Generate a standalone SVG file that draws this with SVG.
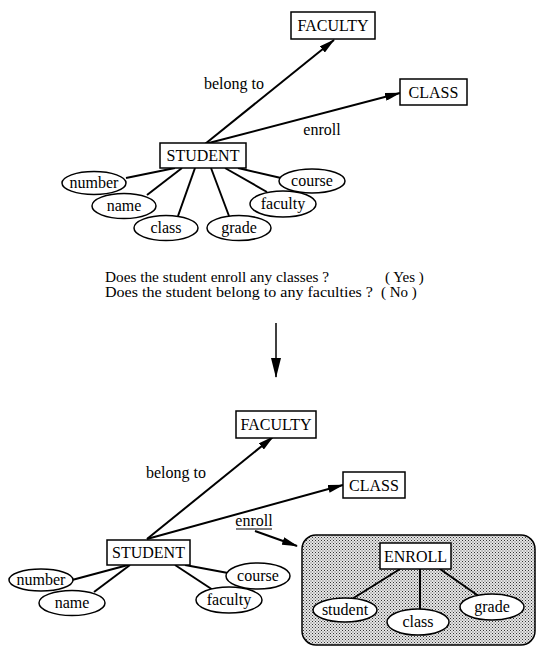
<svg xmlns="http://www.w3.org/2000/svg" width="537" height="648" viewBox="0 0 537 648">
<style>
text{font-family:"Liberation Serif","Times New Roman",serif;fill:#000}
.lbl{font-size:16px;text-anchor:middle}
.q{font-size:15px}
.box{fill:#fff;stroke:#000;stroke-width:1.5}
.ell{fill:#fff;stroke:#000;stroke-width:1.5}
.ln{stroke:#000;stroke-width:2;fill:none}
.arr{stroke:#000;stroke-width:2;fill:none;marker-end:url(#ah)}
</style>
<defs>
<marker id="ah" viewBox="0 0 16 8" refX="15" refY="4" markerWidth="16" markerHeight="8" markerUnits="userSpaceOnUse" orient="auto">
<path d="M0,0 L16,4 L0,8 Z" fill="#000"/>
</marker>
<marker id="ahv" viewBox="0 0 10 20" refX="5" refY="19" markerWidth="10" markerHeight="20" markerUnits="userSpaceOnUse" orient="0">
<path d="M0,0 L10,0 L5,20 Z" fill="#000"/>
</marker>
<pattern id="dots" width="3" height="3" patternUnits="userSpaceOnUse">
<rect width="3" height="3" fill="#e6e6e6"/>
<rect x="0" y="0" width="1" height="1" fill="#333"/>
<rect x="1.5" y="1.5" width="1" height="1" fill="#555"/>
</pattern>
</defs>

<!-- ===== Top diagram ===== -->
<g id="connectors-top">
<line class="arr" x1="205" y1="144" x2="334" y2="40"/>
<line class="arr" x1="205" y1="144" x2="400" y2="93"/>
<line class="ln" x1="175" y1="168" x2="126" y2="178"/>
<line class="ln" x1="182" y1="168" x2="147" y2="195"/>
<line class="ln" x1="195" y1="168" x2="178" y2="216"/>
<line class="ln" x1="211" y1="168" x2="229" y2="216"/>
<line class="ln" x1="225" y1="168" x2="267" y2="192"/>
<line class="ln" x1="238" y1="168" x2="281" y2="178"/>
</g>
<text class="lbl" x="234" y="89">belong to</text>
<text class="lbl" x="322" y="135">enroll</text>

<g id="t-faculty"><rect class="box" x="291" y="12" width="84" height="27"/><text class="lbl" x="333" y="31">FACULTY</text></g>
<g id="t-class"><rect class="box" x="400" y="79" width="67" height="26"/><text class="lbl" x="433.5" y="98">CLASS</text></g>
<g id="t-student"><rect class="box" x="160" y="143" width="86" height="25"/><text class="lbl" x="203" y="161">STUDENT</text></g>
<g id="t-number"><ellipse class="ell" cx="94" cy="183" rx="32" ry="11.5"/><text class="lbl" x="94" y="188">number</text></g>
<g id="t-name"><ellipse class="ell" cx="124" cy="206" rx="32" ry="12.5"/><text class="lbl" x="124" y="211">name</text></g>
<g id="t-class-attr"><ellipse class="ell" cx="166" cy="228" rx="32" ry="12.5"/><text class="lbl" x="166" y="233">class</text></g>
<g id="t-grade"><ellipse class="ell" cx="239" cy="228" rx="32" ry="12.5"/><text class="lbl" x="239" y="233">grade</text></g>
<g id="t-faculty-attr"><ellipse class="ell" cx="283" cy="204" rx="33" ry="13"/><text class="lbl" x="283" y="209">faculty</text></g>
<g id="t-course"><ellipse class="ell" cx="312" cy="181" rx="33" ry="12"/><text class="lbl" x="312" y="186">course</text></g>

<!-- ===== Questions ===== -->
<text class="q" x="105" y="282" textLength="224" lengthAdjust="spacingAndGlyphs">Does the student enroll any classes ?</text>
<text class="q" x="385" y="282">( Yes )</text>
<text class="q" x="105" y="297" textLength="268" lengthAdjust="spacingAndGlyphs">Does the student belong to any faculties ?</text>
<text class="q" x="381" y="297">( No )</text>

<g id="transform-arrow"><line stroke="#000" stroke-width="1.5" x1="276" y1="323" x2="276" y2="377" marker-end="url(#ahv)"/></g>

<!-- ===== Bottom diagram ===== -->
<g id="enroll-group">
<rect x="302" y="535" width="233" height="110" rx="14" ry="14" fill="url(#dots)" stroke="#000" stroke-width="1.5"/>
</g>

<g id="connectors-bottom">
<line class="arr" x1="147" y1="539" x2="273" y2="437"/>
<line class="arr" x1="147" y1="539" x2="343" y2="485"/>
<line class="arr" x1="255" y1="531" x2="297" y2="546"/>
<line class="ln" x1="128" y1="565" x2="72" y2="580"/>
<line class="ln" x1="130" y1="565" x2="94" y2="592"/>
<line class="ln" x1="175" y1="565" x2="213" y2="590"/>
<line class="ln" x1="185" y1="565" x2="228" y2="573"/>
<line class="ln" x1="400" y1="569" x2="352" y2="599"/>
<line class="ln" x1="420" y1="569" x2="420" y2="609"/>
<line class="ln" x1="440" y1="569" x2="480" y2="597"/>
</g>
<text class="lbl" x="176" y="478">belong to</text>
<text class="lbl" x="254" y="526">enroll</text>
<line x1="236" y1="529" x2="272" y2="529" stroke="#000" stroke-width="1.2"/>

<g id="b-faculty"><rect class="box" x="236" y="411" width="80" height="27"/><text class="lbl" x="276" y="430">FACULTY</text></g>
<g id="b-class"><rect class="box" x="343" y="472" width="62" height="26"/><text class="lbl" x="374" y="491">CLASS</text></g>
<g id="b-student"><rect class="box" x="107" y="540" width="83" height="25"/><text class="lbl" x="148.5" y="558">STUDENT</text></g>
<g id="b-number"><ellipse class="ell" cx="41" cy="580" rx="32" ry="11"/><text class="lbl" x="41" y="585">number</text></g>
<g id="b-name"><ellipse class="ell" cx="72" cy="603" rx="33" ry="12.5"/><text class="lbl" x="72" y="608">name</text></g>
<g id="b-faculty-attr"><ellipse class="ell" cx="229" cy="600" rx="33" ry="13"/><text class="lbl" x="229" y="605">faculty</text></g>
<g id="b-course"><ellipse class="ell" cx="258" cy="576" rx="32" ry="13"/><text class="lbl" x="258" y="581">course</text></g>

<g id="b-enroll"><rect class="box" x="380" y="543" width="71" height="26"/><text class="lbl" x="415.5" y="562">ENROLL</text></g>
<g id="b-student-attr"><ellipse class="ell" cx="345" cy="610" rx="32" ry="12"/><text class="lbl" x="345" y="615">student</text></g>
<g id="b-class-attr"><ellipse class="ell" cx="418" cy="622" rx="31" ry="13"/><text class="lbl" x="418" y="627">class</text></g>
<g id="b-grade"><ellipse class="ell" cx="492" cy="607" rx="32" ry="13"/><text class="lbl" x="492" y="612">grade</text></g>
</svg>
